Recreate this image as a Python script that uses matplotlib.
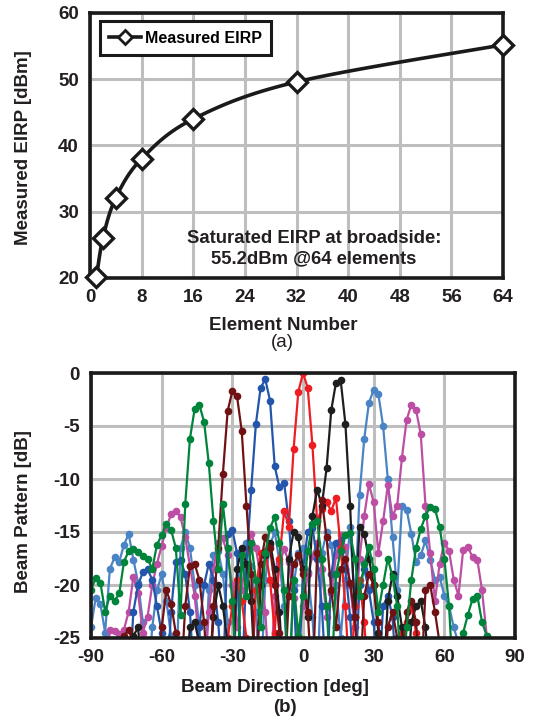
import numpy as np
import matplotlib
matplotlib.use('Agg')
import matplotlib.pyplot as plt

plt.rcParams['font.family'] = ['Liberation Sans', 'DejaVu Sans']
plt.rcParams['font.weight'] = 'bold'
plt.rcParams['axes.unicode_minus'] = False

# (a) EIRP vs element count
elements = [1, 2, 4, 8, 16, 32, 64]
eirp = [20.1, 26.0, 32.1, 38.0, 44.0, 49.6, 55.2]

# (b) beam patterns, sampled every 2 deg from -90 to 90 (-30 = below plot floor)
angles = list(range(-90, 91, 2))

green = [-20.5, -19.3, -19.8, -22.5, -21.0, -21.5, -20.8, -17.8, -16.8, -16.6,
         -16.9, -17.3, -17.5, -18.5, -16.2, -15.3, -14.2, -14.8, -16.5, -22.8,
         -12.4, -6.2, -3.4, -3.0, -4.6, -8.5, -14.0, -18.5, -12.4, -16.5,
         -21.5, -30, -17.2, -21.0, -16.0, -19.5, -24.0, -17.0, -14.6, -13.6,
         -16.0, -20.5, -30, -19.5, -24.8, -21.0, -16.8, -14.2, -14.0, -17.5,
         -22.0, -30, -19.0, -16.8, -15.3, -15.1, -17.5, -21.0, -18.0, -16.4,
         -18.5, -22.5, -20.0, -17.5, -19.2, -22.0, -30, -24.0, -19.5, -16.5,
         -14.7, -13.5, -12.6, -12.8, -14.5, -17.5, -22.0, -30, -30, -24.5,
         -22.8, -21.3, -21.0, -23.5, -24.8, -30, -30, -30, -30, -30,
         -30]

magenta = [-30, -30, -30, -30, -24.2, -24.3, -24.6, -24.2, -22.5, -19.2,
           -20.8, -24.5, -23.0, -20.0, -18.0, -16.3, -14.6, -13.3, -13.0, -13.6,
           -15.5, -18.2, -21.0, -25.5, -30, -22.5, -18.5, -16.0, -15.6, -17.2,
           -20.0, -24.0, -20.5, -16.8, -15.2, -16.5, -19.2, -22.5, -30, -21.0,
           -18.0, -16.6, -17.8, -21.2, -25.5, -22.0, -19.0, -17.3, -16.0, -18.5,
           -23.0, -20.8, -17.2, -15.3, -16.4, -20.0, -24.0, -17.5, -13.5, -10.5,
           -12.2, -17.0, -14.0, -10.6, -13.5, -12.5, -8.0, -4.4, -3.0, -3.5,
           -5.8, -12.5, -17.0, -21.5, -18.0, -16.0, -16.8, -19.5, -21.0, -16.7,
           -16.4, -17.4, -17.6, -20.5, -24.8, -30, -30, -30, -30, -30,
           -30]

light_blue = [-24.0, -21.2, -21.8, -24.5, -18.5, -17.4, -17.8, -16.2, -15.2, -17.6,
              -19.8, -23.5, -30, -24.0, -20.5, -19.0, -21.5, -24.8, -30, -16.5,
              -15.0, -16.5, -20.0, -24.0, -30, -20.5, -17.2, -16.8, -19.0, -23.5,
              -30, -21.0, -17.5, -16.0, -18.2, -22.5, -30, -19.5, -16.2, -15.0,
              -17.8, -22.0, -30, -20.0, -17.0, -16.5, -18.8, -23.0, -30, -17.0,
              -15.0, -16.2, -20.0, -25.0, -19.5, -14.5, -22.0, -11.5, -6.2, -2.8,
              -1.6, -2.0, -5.0, -10.0, -15.5, -20.5, -12.5, -12.9, -15.2, -17.8,
              -17.2, -15.8, -17.6, -19.5, -19.2, -21.0, -22.0, -24.0, -25.5, -30,
              -30, -30, -30, -30, -30, -30, -30, -30, -30, -30,
              -30]

dark_red = [-30, -30, -30, -30, -30, -30, -30, -24.8, -24.2, -25.5,
            -30, -30, -30, -30, -30, -24.0, -20.5, -21.8, -24.5, -30,
            -22.0, -18.2, -18.0, -19.5, -23.5, -30, -22.0, -16.5, -9.5, -3.6,
            -1.7, -2.2, -5.5, -12.5, -19.0, -30, -18.0, -15.5, -16.5, -20.0,
            -24.5, -30, -21.0, -18.0, -17.2, -19.0, -22.5, -30, -17.0, -12.0,
            -15.5, -20.5, -24.0, -18.5, -17.5, -19.8, -23.0, -30, -21.0, -19.0,
            -20.0, -23.5, -30, -24.0, -22.5, -25.0, -30, -22.5, -21.5, -23.5,
            -30, -20.5, -20.0, -22.5, -25.5, -30, -30, -30, -30, -30,
            -30, -30, -30, -30, -30, -30, -30, -30, -30, -30,
            -30]

blue = [-30, -30, -30, -30, -30, -30, -30, -30, -30, -22.5,
        -20.0, -18.8, -18.5, -19.5, -22.0, -24.5, -30, -22.5, -17.8, -17.6,
        -19.0, -22.5, -30, -24.0, -20.0, -18.0, -19.5, -23.5, -30, -15.2,
        -14.8, -17.0, -30, -18.0, -11.0, -4.8, -1.4, -0.6, -2.6, -8.8,
        -10.8, -10.4, -14.0, -20.5, -30, -18.5, -15.0, -14.6, -17.5, -22.0,
        -30, -19.0, -16.0, -15.8, -18.5, -23.0, -30, -20.0, -18.5, -20.5,
        -23.5, -30, -22.0, -21.0, -23.0, -30, -30, -25.5, -30, -30,
        -30, -30, -30, -30, -30, -30, -30, -30, -30, -30,
        -30, -30, -30, -30, -30, -30, -30, -30, -30, -30,
        -30]

red = [-30, -30, -30, -30, -30, -30, -30, -30, -30, -30,
       -30, -30, -30, -30, -30, -30, -30, -30, -30, -25.5,
       -30, -30, -30, -30, -30, -25.5, -30, -30, -30, -25.0,
       -22.0, -19.5, -21.5, -25.0, -30, -20.5, -17.0, -16.8, -19.5, -24.5,
       -17.5, -13.0, -14.5, -7.2, -1.8, 0.0, -1.4, -6.8, -14.0, -12.8,
       -12.2, -13.0, -11.8, -16.5, -22.0, -30, -22.0, -19.5, -23.5, -30,
       -25.5, -25.0, -30, -30, -30, -30, -24.5, -23.5, -22.0, -24.5,
       -30, -30, -30, -30, -30, -30, -30, -30, -30, -30,
       -30, -30, -30, -30, -30, -30, -30, -30, -30, -30,
       -30]

black = [-30, -30, -30, -30, -30, -30, -30, -30, -30, -24.8,
         -24.0, -30, -30, -30, -30, -30, -30, -30, -30, -30,
         -30, -24.0, -23.5, -25.5, -30, -30, -23.0, -20.0, -22.0, -25.5,
         -30, -18.5, -16.5, -18.0, -21.5, -30, -20.0, -17.2, -16.0, -18.5,
         -22.5, -30, -17.5, -15.0, -15.5, -18.5, -23.0, -13.5, -11.0, -12.5,
         -9.0, -3.5, -0.9, -0.7, -4.8, -12.5, -23.0, -14.5, -15.2, -17.5,
         -20.0, -24.5, -30, -21.5, -19.0, -21.0, -24.0, -30, -23.5, -22.0,
         -21.5, -24.0, -30, -30, -30, -30, -30, -30, -30, -30,
         -30, -30, -30, -30, -30, -30, -30, -30, -30, -30,
         -30]


def smooth_curve(x, y, steps=20):
    # catmull-rom through the points, like the smoothed line in the original
    px = [x[0]] + list(x) + [x[-1]]
    py = [y[0]] + list(y) + [y[-1]]
    xs, ys = [], []
    for i in range(1, len(px) - 2):
        for t in np.linspace(0, 1, steps, endpoint=False):
            t2 = t * t
            t3 = t2 * t
            for p, out in ((px, xs), (py, ys)):
                v = 0.5 * (2 * p[i] + (-p[i-1] + p[i+1]) * t
                           + (2*p[i-1] - 5*p[i] + 4*p[i+1] - p[i+2]) * t2
                           + (-p[i-1] + 3*p[i] - 3*p[i+1] + p[i+2]) * t3)
                out.append(v)
    xs.append(x[-1])
    ys.append(y[-1])
    return xs, ys


def style_axes(ax):
    ax.grid(True, color='#BEBEBE', linewidth=2.2)
    ax.set_axisbelow(True)
    for s in ax.spines.values():
        s.set_linewidth(2.6)
        s.set_color('#1A1A1A')
    ax.tick_params(length=0, pad=8, labelsize=13.5)
    for lab in ax.get_xticklabels() + ax.get_yticklabels():
        lab.set_fontweight('bold')
        lab.set_color('#231F20')


def main():
    fig = plt.figure(figsize=(5.37, 7.19), dpi=100)
    W, H = 537.0, 719.0

    ax1 = fig.add_axes([90 / W, 441 / H, 413 / W, 265 / H])
    sx, sy = smooth_curve(elements, eirp)
    ax1.plot(sx, sy, color='#1A1A1A', linewidth=2.6, zorder=3)
    ax1.plot(elements, eirp, linestyle='none', marker='D', markersize=10,
             markerfacecolor='white', markeredgecolor='#1A1A1A',
             markeredgewidth=2.4, clip_on=False, zorder=4)
    ax1.plot([], [], color='#1A1A1A', linewidth=2.6, marker='D', markersize=7,
             markerfacecolor='white', markeredgewidth=2.0, label='Measured EIRP')
    ax1.set_xlim(0, 64)
    ax1.set_ylim(20, 60)
    ax1.set_xticks(range(0, 65, 8))
    ax1.set_yticks(range(20, 61, 10))
    style_axes(ax1)
    leg = ax1.legend(loc='upper left', bbox_to_anchor=(0.024, 0.970),
                     borderaxespad=0, fancybox=False, framealpha=1,
                     edgecolor='#1A1A1A', handlelength=2.0, handletextpad=0.2,
                     borderpad=0.6, prop={'weight': 'bold', 'size': 11.5})
    leg.get_frame().set_linewidth(2.2)
    ax1.text(34.7, 24.5, 'Saturated EIRP at broadside:\n55.2dBm @64 elements',
             ha='center', va='center', fontsize=13.3, fontweight='bold',
             color='#231F20', linespacing=1.25)

    ax2 = fig.add_axes([91 / W, 81 / H, 424 / W, 265 / H])
    series = [(light_blue, '#4A84C4'), (magenta, '#BC4FA3'), (blue, '#2356AB'),
              (red, '#EE1D23'), (black, '#1E1E1E'), (dark_red, '#701214'),
              (green, '#00843C')]
    for vals, col in series:
        ax2.plot(angles, vals, color=col, linewidth=1.6, marker='o',
                 markersize=5.5, markeredgewidth=0)
    ax2.set_xlim(-90, 90)
    ax2.set_ylim(-25, 0)
    ax2.set_xticks(range(-90, 91, 30))
    ax2.set_yticks(range(-25, 1, 5))
    style_axes(ax2)

    fig.text(283 / W, 1 - 325 / H, 'Element Number', ha='center', va='center',
             fontsize=13.5, fontweight='bold', color='#231F20')
    fig.text(282 / W, 1 - 342 / H, '(a)', ha='center', va='center',
             fontsize=13.5, fontweight='normal', color='#231F20')
    fig.text(23 / W, 1 - 148 / H, 'Measured EIRP [dBm]', ha='center', va='center',
             rotation=90, fontsize=13.5, fontweight='bold', color='#231F20')
    fig.text(275 / W, 1 - 687 / H, 'Beam Direction [deg]', ha='center', va='center',
             fontsize=13.5, fontweight='bold', color='#231F20')
    fig.text(285 / W, 1 - 708 / H, '(b)', ha='center', va='center',
             fontsize=13.5, fontweight='bold', color='#231F20')
    fig.text(23 / W, 1 - 512 / H, 'Beam Pattern [dB]', ha='center', va='center',
             rotation=90, fontsize=13.5, fontweight='bold', color='#231F20')

    fig.savefig('out.png', dpi=100)


main()
